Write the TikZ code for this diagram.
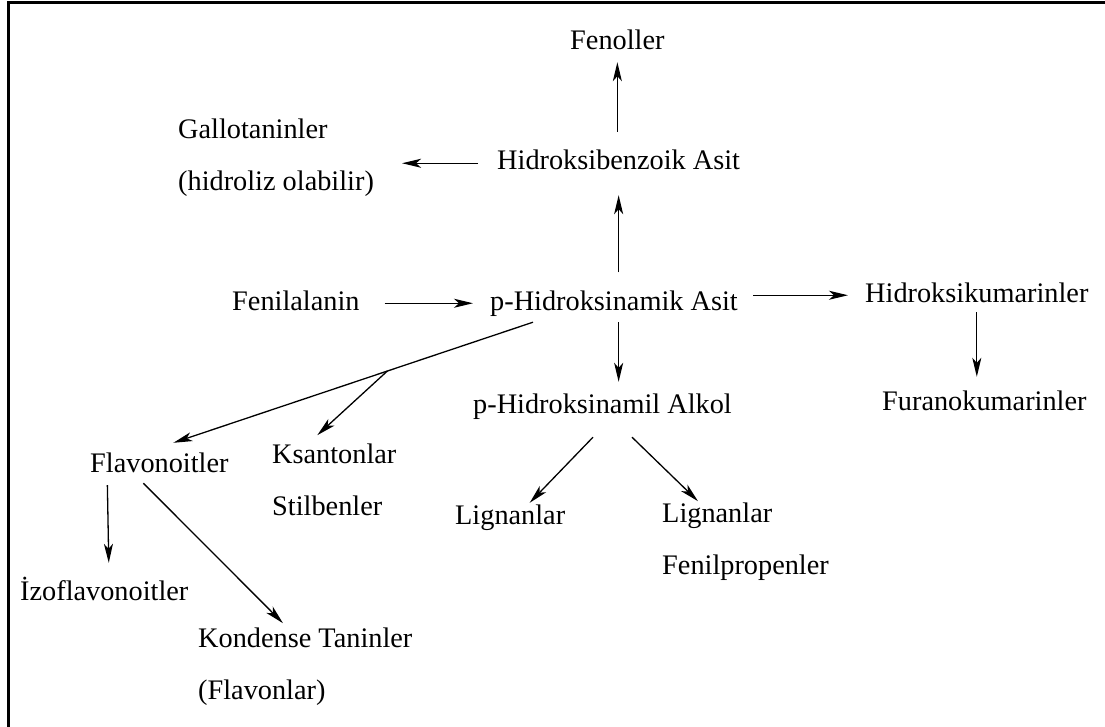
\documentclass[tikz,border=0pt]{standalone}
\usepackage{fontspec}
\setmainfont{Liberation Serif}
\usetikzlibrary{arrows.meta}
\begin{document}
\begin{tikzpicture}[x=1pt,y=-1pt,
	lbl/.style={inner sep=0pt,anchor=base west,text height=19.5pt,text depth=6pt,font=\fontsize{28.3}{52}\selectfont},
	grp/.style={inner sep=0pt,anchor=north west,align=left,font=\fontsize{28.3}{52}\selectfont},
	arr/.style={line width=1.3pt,-{Stealth[length=19pt,width=9pt,inset=5pt]}}]
		\useasboundingbox (0,0) rectangle (1105,727);
		%çerçeve
		\draw[line width=3pt] (8.8,727) -- (8.8,2.5) -- (1105,2.5);
		%düğümler
		\node[lbl] (fen) at (570,50) {Fenoller};
		\node[grp] (gal) at (178,118.7) {Gallotaninler\\(hidroliz olabilir)};
		\node[lbl] (hba) at (497,170) {Hidroksibenzoik Asit};
		\node[lbl] (fal) at (232,310) {Fenilalanin};
		\node[lbl] (pha) at (490,310) {p-Hidroksinamik Asit};
		\node[lbl] (hku) at (865,302) {Hidroksikumarinler};
		\node[lbl] (fku) at (882,410) {Furanokumarinler};
		\node[lbl] (pal) at (473,413) {p-Hidroksinamil Alkol};
		\node[lbl] (flv) at (90,472) {Flavonoitler};
		\node[grp] (ksa) at (272,443.7) {Ksantonlar\\Stilbenler};
		\node[lbl] (lg1) at (455,524) {Lignanlar};
		\node[grp] (lg2) at (662,502.7) {Lignanlar\\Fenilpropenler};
		\node[lbl] (izo) at (20,600) {İzoflavonoitler};
		\node[grp] (kon) at (198,627.7) {Kondense Taninler\\(Flavonlar)};
		%oklar
		\draw[arr,shorten <=18.5pt,shorten >=6pt] (hba.north -| fen.south) -- (fen.south);
		\draw[arr,shorten <=19pt,shorten >=28pt] (hba.west) -- (hba.west -| gal.east);
		\draw[arr,shorten <=18pt,shorten >=19pt] (pha.north -| hba.south) -- (hba.south);
		\draw[arr,shorten <=25pt,shorten >=17pt] (fal.east) -- (pha.west);
		\draw[arr,shorten <=15pt,shorten >=17pt] (pha.east |- hku.west) -- (hku.west);
		\draw[arr,shorten <=4pt,shorten >=13.5pt] (hku.south) -- (hku.south |- fku.north);
		\draw[arr,shorten <=6pt,shorten >=11.5pt] (pha.south -| hba.south) -- (pal.north -| hba.south);
		\draw[arr] ([shift={(-81,6)}]pha.south) -- coordinate[pos=0.405] (br) ([shift={(14,-9.5)}]flv.north);
		\draw[arr] (br) -- ([shift={(-17,-8.5)}]ksa.north);
		\draw[arr] ([shift={(-9.5,18)}]pal.south) -- ([shift={(19.5,-1.5)}]lg1.north);
		\draw[arr] ([shift={(29.5,18)}]pal.south) -- ([shift={(36,-1.5)}]lg2.north west);
		\draw[arr] ([shift={(-52,7)}]flv.south) -- ([shift={(4.5,-17.5)}]izo.north);
		\draw[arr] ([shift={(-16,5)}]flv.south) -- ([shift={(85,-4.5)}]kon.north west);
	\end{tikzpicture}
\end{document}
